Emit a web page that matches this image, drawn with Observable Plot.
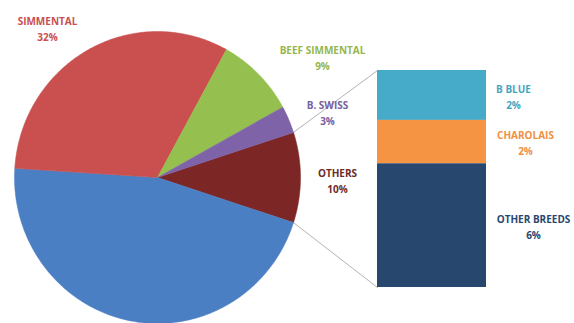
<!DOCTYPE html>
<html><head><meta charset="utf-8">
<script src="https://cdn.jsdelivr.net/npm/d3@7"></script>
<script src="https://cdn.jsdelivr.net/npm/@observablehq/plot@0.6"></script>
<style>body{margin:0;background:#fff;} #chart svg{display:block;}</style>
</head><body><div id="chart"></div>
<script>
// ---- data (clockwise from the "OTHERS" slice) ----
const pieCategories = ["OTHERS", "REST", "SIMMENTAL", "BEEF SIMMENTAL", "B. SWISS"];
const pieValues = [10, 46, 32, 9, 3];
const pieLabels = ["OTHERS\n10%", null, "SIMMENTAL\n32%", "BEEF SIMMENTAL\n9%", "B. SWISS\n3%"];
const barCategories = ["B BLUE", "CHAROLAIS", "OTHER BREEDS"];
const barValues = [2.3, 2.0, 5.7];
const barLabels = ["B BLUE\n2%", "CHAROLAIS\n2%", "OTHER BREEDS\n6%"];

// ---- styles ----
const pieColors = ["#7d2626", "#4a7fc3", "#c9504f", "#95bf4e", "#7f63a8"];
const pieTextColors = ["#6e2a2a", "#4a7fc3", "#c9504f", "#95b64e", "#7660a0"];
const barColors = ["#46abc8", "#f59443", "#28476f"];
const barTextColors = ["#46a6c2", "#f09040", "#28476f"];

// ---- layout (pixels) ----
const W = 574, H = 323;
const cx = 157, cy = 177, Rx = 143, Ry = 146;   // pie centre and radii
const barPx = {x1: 377, x2: 486, top: 70, bottom: 287};
const pieLabelPx = [[337, 179.5], null, [47, 27.5], [322, 56.5], [327, 111]];
const barLabelPx = [513, 525, 533];
// pixel layout -> data units (pie radius = 1)
const ux = px => (px - cx) / Rx;
const uy = py => (cy - py) / Ry;
const xDomain = [ux(0), ux(W)];
const yDomain = [uy(H), uy(0)];
const bar = {x1: ux(barPx.x1), x2: ux(barPx.x2), top: uy(barPx.top), bottom: uy(barPx.bottom)};

// ---- geometry from data ----
const total = d3.sum(pieValues);
const startAngle = 90 - (pieValues[0] / total) * 360 / 2; // centre OTHERS at 3 o'clock
const rad = d => d * Math.PI / 180;
const arcPts = [];
let a = startAngle;
const sliceAngles = [];
pieValues.forEach((v, i) => {
  const span = v / total * 360;
  const a0 = a, a1 = a + span;
  sliceAngles.push([a0, a1]);
  arcPts.push({cat: pieCategories[i], u: 0, v: 0});
  const n = Math.max(2, Math.ceil(span));
  for (let k = 0; k <= n; k++) {
    const t = rad(a0 + (a1 - a0) * k / n);
    arcPts.push({cat: pieCategories[i], u: Math.sin(t), v: Math.cos(t)});
  }
  arcPts.push({cat: pieCategories[i], u: 0, v: 0});
  a = a1;
});

const barTotal = d3.sum(barValues);
const vScale = d3.scaleLinear().domain([0, barTotal]).range([bar.top, bar.bottom]);
let cum = 0;
const barRects = barValues.map((v, i) => {
  const r = {cat: barCategories[i], y1: vScale(cum), y2: vScale(cum + v), label: barLabels[i], lx: ux(barLabelPx[i]), c: barTextColors[i]};
  cum += v;
  return r;
});

const othersA = sliceAngles[0];
const connectors = [
  {g: 0, u: Math.sin(rad(othersA[0])), v: Math.cos(rad(othersA[0]))},
  {g: 0, u: bar.x1, v: bar.top},
  {g: 1, u: Math.sin(rad(othersA[1])), v: Math.cos(rad(othersA[1]))},
  {g: 1, u: bar.x1, v: bar.bottom}
];

const pieText = pieLabels.map((t, i) => t ? {t, u: ux(pieLabelPx[i][0]), v: uy(pieLabelPx[i][1]), c: pieTextColors[i]} : null).filter(Boolean);

const allCats = pieCategories.concat(barCategories);
const allColors = pieColors.concat(barColors);

const chart = Plot.plot({
  width: W, height: H,
  margin: 0,
  x: {domain: xDomain, axis: null},
  y: {domain: yDomain, axis: null},
  color: {domain: allCats, range: allColors},
  style: {fontFamily: "'Open Sans', sans-serif", background: "#fff"},
  marks: [
    Plot.line(connectors, {x: "u", y: "v", z: "g", stroke: "#b3b3b3", strokeWidth: 1}),
    Plot.line(arcPts, {x: "u", y: "v", z: "cat", fill: "cat", stroke: "cat", strokeWidth: 0.5, curve: "linear-closed"}),
    Plot.rect(barRects, {x1: bar.x1, x2: bar.x2, y1: "y1", y2: "y2", fill: "cat"}),
    Plot.text(pieText, {x: "u", y: "v", text: "t", fill: "c", fontWeight: 700, fontSize: 10, lineHeight: 1.6}),
    Plot.text(barRects, {x: "lx", y: d => (d.y1 + d.y2) / 2, text: "label", fill: "c", fontWeight: 700, fontSize: 10, lineHeight: 1.6})
  ]
});
document.getElementById("chart").append(chart);
</script>
</body></html>
